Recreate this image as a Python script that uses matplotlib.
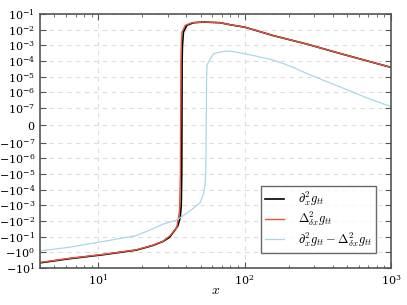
import numpy as np
import matplotlib
matplotlib.use("Agg")
import matplotlib.pyplot as plt

plt.rcParams['mathtext.fontset'] = 'cm'
plt.rcParams['font.family'] = 'serif'
plt.rcParams['font.serif'] = ['DejaVu Serif']

# valores
x_d2 = [4.0, 6.37, 10.76, 18.2, 23.6, 27.6, 30.7, 33.2, 35.0, 36.3, 36.9, 37.2, 37.4,
        37.6, 38.2, 40.3, 44.7, 52.3, 68.1, 79.6, 88.0, 99.8, 123.6, 156.5, 266, 449, 1000]
y_d2 = [-4.69, -2.54, -1.42, -0.72, -0.366, -0.204, -0.109, -0.0411, -0.0199, -0.0059,
        -1e-3, -1e-5, 1e-4, 1e-3, 7e-3, 0.019, 0.0277, 0.0308, 0.0277, 0.0206, 0.0176,
        0.0145, 8.1e-3, 4.2e-3, 1.2e-3, 3.0e-4, 3.9e-5]

x_fd = [4.0, 6.37, 10.76, 18.2, 23.6, 27.6, 31.0, 34.4, 35.9, 36.4, 36.7, 36.9, 37.3,
        39.3, 43.6, 52.3, 68.1, 79.6, 88.0, 99.8, 123.6, 156.5, 266, 449, 1000]
y_fd = [-4.4, -2.4, -1.35, -0.69, -0.35, -0.196, -0.085, -0.0254, -2.2e-3, -1e-5,
        1e-4, 1e-3, 7e-3, 0.019, 0.0277, 0.0308, 0.0277, 0.0206, 0.0176, 0.0145,
        8.1e-3, 4.2e-3, 1.2e-3, 3.0e-4, 3.9e-5]

x_diff = [4.0, 6.37, 10.76, 18.2, 22.6, 27.9, 34.4, 42.5, 49.7, 52.3, 53.7, 54.3,
          55.0, 55.3, 56.6, 61.2, 71.6, 79.6, 93.1, 121, 156.5, 205, 266, 344,
          449, 665, 1000]
y_diff = [-0.81, -0.47, -0.204, -0.085, -0.037, -0.0155, -0.0087, -2.2e-3, -6.7e-4,
          -1.9e-4, -4.6e-5, -6.6e-6, 1e-5, 5e-5, 8.5e-5, 2.9e-4, 4.1e-4, 4.3e-4,
          3.3e-4, 2.0e-4, 1.15e-4, 4.7e-5, 1.6e-5, 5.9e-6, 2.2e-6, 4.9e-7, 1.2e-7]

fig = plt.figure(figsize=(4.07, 3.05), dpi=100)
ax = fig.add_axes([40/407, 1-268/305, 351/407, 254/305])

ax.plot(x_d2, y_d2, color='black', lw=1.2, label=r'$\partial_x^2 g_{tt}$')
ax.plot(x_fd, y_fd, color='#E8543A', lw=1.0, label=r'$\Delta_{\delta x}^2 g_{tt}$')
ax.plot(x_diff, y_diff, color='#A8D8EA', lw=0.9,
        label=r'$\partial_x^2 g_{tt} - \Delta_{\delta x}^2 g_{tt}$')

ax.set_xscale('log')
ax.set_yscale('symlog', linthresh=1e-7, linscale=1)
ax.set_xlim(4, 1000)
ax.set_ylim(-10, 0.1)

pos = [10.0**k for k in range(-7, 0)]
yt = [-10.0**k for k in range(1, -8, -1)] + [0] + pos
ax.set_yticks(yt)
ax.yaxis.set_minor_locator(matplotlib.ticker.NullLocator())

ax.grid(True, which='major', ls=(0, (4, 4)), color='#dddddd', lw=0.8)
ax.tick_params(which='both', direction='in', top=True, right=True, labelsize=8,
               color='#555555')
ax.tick_params(which='major', length=4)
ax.tick_params(which='minor', length=2)
for s in ax.spines.values():
    s.set_color('#555555')
    s.set_linewidth(1.2)

ax.set_xlabel(r'$x$', fontsize=10, labelpad=-3)

leg = ax.legend(loc='lower right', fontsize=9, fancybox=False, handlelength=1.5,
                borderpad=0.35, labelspacing=0.15, handletextpad=1.1,
                borderaxespad=1.2)
leg.get_frame().set_edgecolor('#444444')
leg.get_frame().set_linewidth(1.0)

fig.savefig('out.png', dpi=100)
